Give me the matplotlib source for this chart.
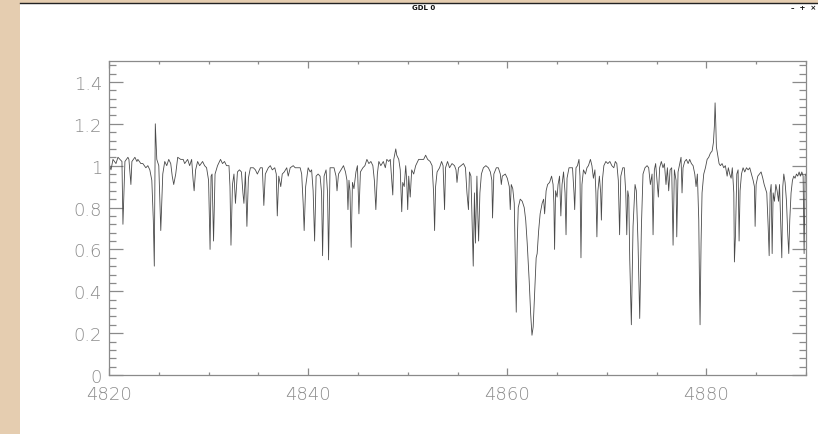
import matplotlib.pyplot as plt
from matplotlib.patches import Rectangle
from matplotlib.lines import Line2D
from matplotlib.ticker import MultipleLocator

# spectrum (wavelength in Angstrom, normalised flux)
wavelength = [
    4820.0, 4820.2, 4820.4, 4820.7, 4820.9, 4821.1, 4821.3, 4821.4, 4821.6, 4821.9,
    4822.0, 4822.2, 4822.3, 4822.6, 4822.8, 4822.9, 4823.2, 4823.4, 4823.7, 4823.9,
    4824.1, 4824.3, 4824.45, 4824.55, 4824.65, 4824.8, 4825.0, 4825.2, 4825.4, 4825.6,
    4825.8, 4826.0, 4826.2, 4826.35, 4826.5, 4826.7, 4826.9, 4827.2, 4827.45, 4827.6,
    4827.9, 4828.1, 4828.3, 4828.45, 4828.55, 4828.7, 4828.9, 4829.1, 4829.4, 4829.6,
    4829.8, 4830.0, 4830.15, 4830.25, 4830.35, 4830.5, 4830.65, 4830.9, 4831.2, 4831.4,
    4831.6, 4831.8, 4832.05, 4832.15, 4832.25, 4832.4, 4832.55, 4832.7, 4832.9, 4833.1,
    4833.3, 4833.45, 4833.55, 4833.7, 4833.85, 4834.0, 4834.2, 4834.5, 4834.7, 4834.9,
    4835.2, 4835.4, 4835.55, 4835.7, 4836.0, 4836.2, 4836.4, 4836.65, 4836.8, 4836.9,
    4837.05, 4837.25, 4837.4, 4837.6, 4837.85, 4838.0, 4838.2, 4838.5, 4838.7, 4838.9,
    4839.2, 4839.35, 4839.5, 4839.6, 4839.75, 4840.0, 4840.2, 4840.35, 4840.5, 4840.65,
    4840.8, 4841.0, 4841.2, 4841.35, 4841.45, 4841.6, 4841.8, 4841.95, 4842.05, 4842.2,
    4842.45, 4842.6, 4842.8, 4842.9, 4843.05, 4843.3, 4843.55, 4843.75, 4843.9, 4844.0,
    4844.1, 4844.2, 4844.32, 4844.45, 4844.6, 4844.8, 4844.95, 4845.1, 4845.25, 4845.5,
    4845.7, 4845.9, 4846.1, 4846.3, 4846.5, 4846.65, 4846.8, 4846.95, 4847.1, 4847.3,
    4847.55, 4847.75, 4847.9, 4848.1, 4848.25, 4848.4, 4848.5, 4848.6, 4848.8, 4848.9,
    4849.1, 4849.25, 4849.4, 4849.5, 4849.65, 4849.8, 4849.9, 4850.0, 4850.1, 4850.25,
    4850.4, 4850.6, 4850.8, 4851.1, 4851.3, 4851.6, 4851.8, 4852.0, 4852.25, 4852.45,
    4852.6, 4852.7, 4852.8, 4852.95, 4853.2, 4853.4, 4853.55, 4853.7, 4853.8, 4854.0,
    4854.2, 4854.45, 4854.7, 4854.85, 4854.95, 4855.1, 4855.35, 4855.6, 4855.8, 4855.95,
    4856.1, 4856.2, 4856.35, 4856.5, 4856.58, 4856.7, 4856.8, 4856.95, 4857.05, 4857.12,
    4857.25, 4857.4, 4857.6, 4857.85, 4858.1, 4858.3, 4858.45, 4858.52, 4858.65, 4858.9,
    4859.1, 4859.3, 4859.4, 4859.5, 4859.8, 4860.0, 4860.2, 4860.3, 4860.4, 4860.55,
    4860.7, 4860.8, 4860.9, 4861.0, 4861.1, 4861.3, 4861.5, 4861.7, 4861.85, 4862.0,
    4862.2, 4862.35, 4862.48, 4862.6, 4862.75, 4862.9, 4863.0, 4863.15, 4863.3, 4863.5,
    4863.65, 4863.75, 4863.9, 4864.05, 4864.25, 4864.45, 4864.6, 4864.68, 4864.75, 4864.85,
    4865.0, 4865.1, 4865.25, 4865.38, 4865.5, 4865.65, 4865.8, 4865.9, 4866.0, 4866.2,
    4866.4, 4866.55, 4866.7, 4866.77, 4866.9, 4867.05, 4867.2, 4867.3, 4867.4, 4867.5,
    4867.65, 4867.85, 4868.0, 4868.15, 4868.35, 4868.5, 4868.65, 4868.8, 4868.9, 4869.0,
    4869.1, 4869.25, 4869.38, 4869.45, 4869.55, 4869.7, 4869.9, 4870.1, 4870.3, 4870.5,
    4870.7, 4870.85, 4871.0, 4871.15, 4871.28, 4871.4, 4871.6, 4871.75, 4871.9, 4872.0,
    4872.1, 4872.2, 4872.3, 4872.46, 4872.63, 4872.83, 4872.96, 4873.13, 4873.3, 4873.47,
    4873.63, 4873.83, 4874.04, 4874.2, 4874.37, 4874.54, 4874.64, 4874.77, 4874.9, 4875.04,
    4875.17, 4875.3, 4875.47, 4875.64, 4875.78, 4875.94, 4876.08, 4876.21, 4876.35, 4876.51,
    4876.65, 4876.78, 4876.95, 4877.02, 4877.15, 4877.32, 4877.45, 4877.55, 4877.65, 4877.82,
    4877.99, 4878.16, 4878.32, 4878.49, 4878.66, 4878.83, 4878.96, 4879.09, 4879.23, 4879.3,
    4879.36, 4879.46, 4879.56, 4879.73, 4879.9, 4880.07, 4880.23, 4880.4, 4880.57, 4880.7,
    4880.8, 4880.87, 4880.94, 4881.0, 4881.14, 4881.27, 4881.4, 4881.57, 4881.74, 4881.9,
    4882.08, 4882.2, 4882.34, 4882.48, 4882.6, 4882.75, 4882.81, 4882.91, 4883.05, 4883.18,
    4883.28, 4883.38, 4883.52, 4883.68, 4883.85, 4884.02, 4884.19, 4884.35, 4884.52, 4884.69,
    4884.82, 4884.89, 4884.99, 4885.16, 4885.33, 4885.49, 4885.66, 4885.8, 4885.93, 4886.06,
    4886.2, 4886.3, 4886.4, 4886.5, 4886.6, 4886.7, 4886.83, 4886.97, 4887.1, 4887.24,
    4887.34, 4887.47, 4887.57, 4887.67, 4887.77, 4887.9, 4888.04, 4888.17, 4888.27, 4888.37,
    4888.5, 4888.64, 4888.77, 4888.9, 4889.04, 4889.17, 4889.31, 4889.44, 4889.58, 4889.71,
    4889.81, 4889.91, 4890.0,
]
flux = [
    1.01, 0.98, 1.03, 1.01, 1.04, 1.03, 1.02, 0.72, 1.02, 1.04,
    1.03, 0.91, 1.02, 1.04, 1.02, 1.03, 1.01, 1.01, 0.99, 1.00,
    0.98, 0.93, 0.74, 0.52, 1.20, 1.03, 1.00, 0.69, 0.96, 1.02,
    1.00, 1.03, 1.01, 0.95, 0.91, 0.96, 1.04, 1.03, 1.03, 1.01,
    1.03, 1.00, 1.03, 0.93, 0.88, 0.98, 1.02, 1.00, 1.02, 1.00,
    0.99, 0.93, 0.60, 0.95, 0.96, 0.64, 0.96, 1.00, 1.03, 1.01,
    1.02, 1.00, 1.00, 0.90, 0.62, 0.91, 0.96, 0.82, 0.97, 0.98,
    0.97, 0.87, 0.82, 0.97, 0.71, 0.94, 0.99, 0.99, 0.98, 0.96,
    0.99, 0.99, 0.81, 0.96, 0.99, 1.00, 0.98, 0.99, 0.96, 0.76,
    0.95, 0.90, 0.96, 0.97, 0.99, 0.95, 0.99, 1.00, 0.99, 0.99,
    0.99, 0.96, 0.82, 0.69, 0.90, 0.99, 0.97, 0.98, 0.88, 0.64,
    0.95, 0.96, 0.95, 0.87, 0.57, 0.95, 0.98, 0.87, 0.55, 0.99,
    0.99, 0.99, 0.95, 0.88, 0.96, 0.98, 1.00, 0.97, 0.93, 0.79,
    0.93, 0.88, 0.61, 0.92, 0.89, 0.97, 1.00, 0.77, 0.97, 0.99,
    1.00, 1.03, 1.01, 1.02, 1.00, 0.93, 0.79, 0.96, 1.02, 1.00,
    1.02, 0.99, 1.03, 1.02, 1.03, 0.93, 0.86, 1.03, 1.08, 1.05,
    1.03, 0.98, 0.78, 0.92, 0.90, 1.00, 0.93, 0.79, 0.95, 0.85,
    0.98, 0.96, 1.00, 1.03, 1.03, 1.03, 1.05, 1.03, 1.02, 1.00,
    0.87, 0.69, 0.90, 0.97, 0.99, 1.02, 1.00, 0.79, 0.99, 1.02,
    0.99, 1.01, 1.00, 0.98, 0.92, 0.99, 1.00, 1.01, 0.99, 0.87,
    0.79, 0.97, 0.95, 0.67, 0.52, 0.87, 0.63, 0.95, 0.75, 0.64,
    0.87, 0.96, 0.99, 1.00, 0.99, 0.97, 0.93, 0.75, 0.96, 0.99,
    0.99, 0.96, 0.91, 0.95, 0.96, 0.94, 0.90, 0.79, 0.91, 0.89,
    0.82, 0.55, 0.30, 0.63, 0.80, 0.84, 0.83, 0.80, 0.74, 0.63,
    0.45, 0.29, 0.19, 0.23, 0.39, 0.56, 0.58, 0.69, 0.77, 0.82,
    0.84, 0.77, 0.88, 0.91, 0.92, 0.95, 0.91, 0.82, 0.60, 0.88,
    0.85, 0.91, 0.95, 0.76, 0.91, 0.97, 0.87, 0.67, 0.94, 0.99,
    0.99, 0.99, 0.87, 0.79, 0.99, 1.00, 1.03, 0.95, 0.56, 0.91,
    0.98, 0.96, 0.99, 1.00, 1.03, 1.00, 0.94, 0.98, 0.87, 0.66,
    0.88, 0.95, 0.87, 0.74, 0.93, 1.00, 1.02, 1.01, 1.02, 1.00,
    0.99, 1.02, 1.01, 0.93, 0.67, 0.95, 0.99, 0.99, 0.87, 0.67,
    0.88, 0.85, 0.55, 0.24, 0.71, 0.91, 0.88, 0.63, 0.27, 0.71,
    0.96, 0.99, 1.00, 0.99, 0.91, 0.96, 0.67, 0.98, 1.01, 0.93,
    0.85, 0.99, 1.02, 0.99, 1.01, 0.91, 0.99, 0.88, 0.98, 0.99,
    0.62, 0.98, 0.93, 0.66, 0.97, 1.01, 1.04, 0.87, 0.99, 1.02,
    1.03, 1.01, 1.03, 1.01, 1.00, 0.96, 0.90, 0.96, 0.74, 0.44,
    0.24, 0.63, 0.87, 0.96, 0.99, 1.03, 1.04, 1.06, 1.07, 1.11,
    1.19, 1.30, 1.20, 1.09, 1.05, 1.01, 1.00, 1.01, 0.99, 1.00,
    0.95, 0.99, 0.96, 0.94, 0.99, 0.87, 0.54, 0.66, 0.96, 0.98,
    0.64, 0.88, 0.96, 0.99, 0.97, 0.99, 0.98, 0.99, 0.96, 0.93,
    0.90, 0.71, 0.91, 0.95, 0.96, 0.97, 0.94, 0.91, 0.89, 0.87,
    0.71, 0.57, 0.87, 0.91, 0.58, 0.87, 0.83, 0.91, 0.88, 0.83,
    0.91, 0.71, 0.56, 0.90, 0.96, 0.92, 0.83, 0.67, 0.58, 0.74,
    0.87, 0.93, 0.95, 0.94, 0.96, 0.95, 0.97, 0.95, 0.97, 0.95,
    0.58, 0.95, 0.96,
]

y_ticks = [0, 0.2, 0.4, 0.6, 0.8, 1.0, 1.2, 1.4]
y_tick_labels = ["0", "0.2", "0.4", "0.6", "0.8", "1", "1.2", "1.4"]
x_ticks = [4820, 4840, 4860, 4880]
x_tick_labels = ["4820", "4840", "4860", "4880"]

W, H = 818, 435
fig = plt.figure(figsize=(W / 100, H / 100), dpi=100)
fig.patch.set_facecolor("#e5cdb0")

# the white GDL window sitting on the desktop
win_left, win_top = 20, 4
fig.add_artist(Rectangle((win_left / W, 0), 1 - win_left / W, 1 - win_top / H,
                         transform=fig.transFigure, facecolor="white",
                         edgecolor="none", zorder=-5))
fig.add_artist(Line2D([win_left / W, 1], [1 - win_top / H] * 2,
                      transform=fig.transFigure, color="#222222", lw=1.0, zorder=-4))
fig.text(424 / W, 1 - 8 / H, "GDL 0", fontsize=5, fontweight="bold",
         ha="center", va="center", color="#111111")
fig.text(804 / W, 1 - 8 / H, "\u2013  +  \u00d7", fontsize=5, fontweight="bold",
         ha="center", va="center", color="#111111")

ax = fig.add_axes([109 / W, 59 / H, 697 / W, 314 / H])
ax.patch.set_alpha(0)
ax.plot(wavelength, flux, color="#4a4a4a", lw=0.6)

ax.set_xlim(4820, 4890)
ax.set_ylim(0, 1.5)
ax.set_xticks(x_ticks)
ax.set_xticklabels(x_tick_labels)
ax.set_yticks(y_ticks)
ax.set_yticklabels(y_tick_labels)
ax.xaxis.set_minor_locator(MultipleLocator(5))
ax.yaxis.set_minor_locator(MultipleLocator(0.04))

for s in ax.spines.values():
    s.set_color("#8a8a8a")
    s.set_linewidth(0.9)

ax.tick_params(axis="both", which="both", direction="in", color="#8a8a8a",
               width=0.9, top=True, right=True, labelcolor="#8c8c8c")
ax.tick_params(axis="y", which="major", length=10, pad=5)
ax.tick_params(axis="y", which="minor", length=5)
ax.tick_params(axis="x", which="major", length=4.7, pad=7)
ax.tick_params(axis="x", which="minor", length=2)

for lab in ax.get_xticklabels() + ax.get_yticklabels():
    lab.set_fontfamily(["DejaVu Sans"])
    lab.set_fontweight("light")
    lab.set_fontsize(13)

fig.savefig("out.png", dpi=100)
